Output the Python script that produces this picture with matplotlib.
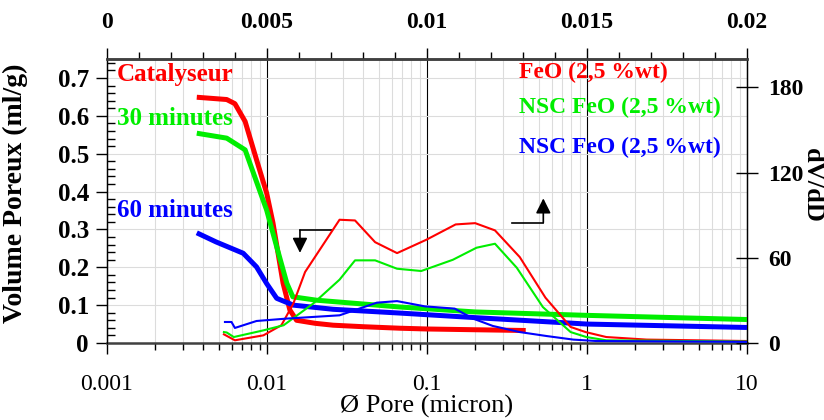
import matplotlib
matplotlib.use("Agg")
import matplotlib.pyplot as plt
from matplotlib.ticker import MultipleLocator, LogLocator, NullFormatter

plt.rcParams['font.family'] = ['Liberation Serif', 'DejaVu Serif']

# ---- data: cumulative pore volume (left axis, ml/g) ----
red_thick_x = [0.00364, 0.0056, 0.0063, 0.0073, 0.0086, 0.00995, 0.0109, 0.0126, 0.0139, 0.0153, 0.02, 0.0259, 0.04, 0.068, 0.1, 0.2, 0.414]
red_thick_y = [0.649, 0.643, 0.632, 0.585, 0.484, 0.396, 0.317, 0.158, 0.087, 0.060, 0.052, 0.047, 0.043, 0.039, 0.037, 0.035, 0.033]
green_thick_x = [0.00364, 0.0056, 0.0073, 0.00995, 0.0115, 0.0133, 0.0145, 0.0204, 0.068, 0.2, 1.0, 10]
green_thick_y = [0.554, 0.541, 0.510, 0.351, 0.254, 0.158, 0.122, 0.113, 0.095, 0.082, 0.073, 0.062]
blue_thick_x = [0.00364, 0.0048, 0.0071, 0.0086, 0.00995, 0.0115, 0.0146, 0.0259, 0.068, 0.2, 1.0, 10]
blue_thick_y = [0.291, 0.267, 0.237, 0.201, 0.157, 0.118, 0.100, 0.089, 0.079, 0.067, 0.050, 0.041]

# ---- data: dV/dD (right axis) ----
red_thin_x = [0.00538, 0.0063, 0.0095, 0.0123, 0.0146, 0.0173, 0.0284, 0.0355, 0.0474, 0.065, 0.099, 0.151, 0.2, 0.266, 0.38, 0.55, 0.79, 0.98, 1.32, 2.36, 10]
red_thin_y = [6.1, 1.9, 5.4, 12.5, 27.7, 50, 86.8, 86.3, 71, 63.3, 72.7, 83.5, 84.4, 79.3, 60.5, 31.9, 11.3, 7.7, 4.2, 2.4, 1.4]
green_thin_x = [0.00538, 0.0056, 0.0062, 0.0095, 0.0127, 0.0194, 0.0284, 0.0355, 0.0474, 0.065, 0.092, 0.145, 0.204, 0.266, 0.364, 0.53, 0.79, 0.99, 1.32, 10]
green_thin_y = [7.7, 7.4, 4.2, 8.9, 12.5, 27.7, 44.6, 58.2, 58.2, 52.3, 50.7, 58.6, 67.1, 69.9, 53, 25.3, 7.7, 4.2, 1.9, 1.0]
blue_thin_x = [0.00546, 0.006, 0.0063, 0.0086, 0.0133, 0.0284, 0.0486, 0.065, 0.097, 0.149, 0.194, 0.258, 0.38, 0.56, 0.82, 1.14, 10]
blue_thin_y = [14.8, 14.8, 10.6, 15.5, 17.2, 19.5, 28.4, 29.5, 25.8, 24.2, 17.2, 12.0, 7.7, 4.9, 2.4, 1.4, 0.8]

# ---- tick labels ----
bottom_ticks = [0.001, 0.01, 0.1, 1, 10]
bottom_labels = ['0.001', '0.01', '0.1', '1', '10']
top_ticks = [0, 0.005, 0.01, 0.015, 0.02]
top_labels = ['0', '0.005', '0.01', '0.015', '0.02']
left_ticks = [0, 0.1, 0.2, 0.3, 0.4, 0.5, 0.6, 0.7]
left_labels = ['0', '0.1', '0.2', '0.3', '0.4', '0.5', '0.6', '0.7']
right_ticks = [0, 60, 120, 180]
right_labels = ['0', '60', '120', '180']

series_labels_left = ['Catalyseur', '30 minutes', '60 minutes']
series_labels_right = ['FeO (2,5 %wt)', 'NSC FeO (2,5 %wt)', 'NSC FeO (2,5 %wt)']
colors = ['#ff0000', '#00ee00', '#0000ff']

# arrow annotations (data coords on main axes)
arrow_left = dict(corner=(0.01607, 0.298), end_x=0.02535, tip_y=0.238)
arrow_right = dict(corner=(0.5333, 0.318), start_x=0.3384, tip_y=0.382)

fig = plt.figure(figsize=(8.24, 4.2), dpi=100)
ax = fig.add_axes([107/824, 77/420, 640/824, 284/420])
ax.set_xscale('log')
ax.set_xlim(0.001, 10)
ax.set_ylim(0, 0.75)

# grids
ax.xaxis.set_minor_locator(LogLocator(base=10, subs=range(2, 10)))
ax.grid(which='minor', axis='x', color='#dcdcdc', lw=0.8)
ax.grid(which='major', axis='y', color='#dcdcdc', lw=0.8)
for xv in [0.01, 0.1, 1]:
    ax.axvline(xv, color='black', lw=0.8, zorder=1)

ax.plot(red_thick_x, red_thick_y, color=colors[0], lw=3.6, zorder=3, solid_capstyle='butt')
ax.plot(green_thick_x, green_thick_y, color=colors[1], lw=3.6, zorder=3, solid_capstyle='butt')
ax.plot(blue_thick_x, blue_thick_y, color=colors[2], lw=3.6, zorder=3, solid_capstyle='butt')

ax.set_xticks(bottom_ticks)
ax.set_xticklabels(bottom_labels)
ax.xaxis.set_minor_formatter(NullFormatter())
ax.set_yticks(left_ticks)
ax.set_yticklabels(left_labels, fontweight='bold')
ax.yaxis.set_minor_locator(MultipleLocator(0.02))
ax.tick_params(axis='x', which='major', direction='out', length=8, width=1, labelsize=17, pad=14)
ax.tick_params(axis='x', which='minor', direction='out', length=5, width=1)
ax.tick_params(axis='y', which='major', direction='out', length=8, width=1, labelsize=18, pad=5)
ax.tick_params(axis='y', which='minor', direction='in', length=6, width=1)

ax.set_xlabel('Ø Pore (micron)', fontsize=19, labelpad=0)
ax.set_ylabel('Volume Poreux (ml/g)', fontsize=20, fontweight='bold')
ax.yaxis.set_label_coords(-0.123, 0.526)

for s in ['top', 'bottom']:
    ax.spines[s].set_color('#404040')
    ax.spines[s].set_linewidth(1.8)
ax.spines['left'].set_linewidth(1.0)
ax.spines['right'].set_linewidth(1.0)

# right axis
ax2 = ax.twinx()
ax2.set_ylim(0, 200)
ax2.plot(red_thin_x, red_thin_y, color=colors[0], lw=1.5)
ax2.plot(green_thin_x, green_thin_y, color=colors[1], lw=1.5)
ax2.plot(blue_thin_x, blue_thin_y, color=colors[2], lw=1.5)
ax2.set_yticks(right_ticks)
ax2.set_yticklabels(right_labels, fontweight='bold')
ax2.tick_params(axis='y', which='major', direction='inout', length=16, width=1, labelsize=17, pad=7)
ax2.set_ylabel('dV/dD', fontsize=19, fontweight='bold', rotation=270, va='center')
ax2.yaxis.set_label_coords(1.102, 0.556)
for s in ['top', 'bottom']:
    ax2.spines[s].set_visible(False)

# top axis
ax3 = ax.twiny()
ax3.set_xlim(0, 0.02)
ax3.set_xticks(top_ticks)
ax3.set_xticklabels(top_labels, fontweight='bold')
ax3.xaxis.set_minor_locator(MultipleLocator(0.001))
ax3.tick_params(axis='x', which='major', direction='out', length=8, width=1, labelsize=17, pad=11)
ax3.tick_params(axis='x', which='minor', direction='out', length=5, width=1)
for s in ['left', 'right', 'bottom']:
    ax3.spines[s].set_visible(False)
ax3.spines['top'].set_color('#404040')
ax3.spines['top'].set_linewidth(1.8)

# text labels
left_text_y = [0.944, 0.792, 0.468]
for lab, c, yy in zip(series_labels_left, colors, left_text_y):
    ax.text(0.0156, yy, lab, color=c, fontsize=18, fontweight='bold',
            transform=ax.transAxes, va='center', ha='left', zorder=5)
right_text_y = [0.951, 0.831, 0.69]
for lab, c, yy in zip(series_labels_right, colors, right_text_y):
    ax.text(0.644, yy, lab, color=c, fontsize=17, fontweight='bold',
            transform=ax.transAxes, va='center', ha='left', zorder=5)

# arrows
cx, cy = arrow_left['corner']
ax.plot([cx, arrow_left['end_x']], [cy, cy], color='black', lw=1.2, zorder=4)
ax.annotate('', xy=(cx, arrow_left['tip_y']), xytext=(cx, cy),
            arrowprops=dict(arrowstyle='-|>,head_length=0.9,head_width=0.45', color='black', lw=1.2,
                            shrinkA=0, shrinkB=0), zorder=4)
cx, cy = arrow_right['corner']
ax.plot([arrow_right['start_x'], cx], [cy, cy], color='black', lw=1.2, zorder=4)
ax.annotate('', xy=(cx, arrow_right['tip_y']), xytext=(cx, cy),
            arrowprops=dict(arrowstyle='-|>,head_length=0.9,head_width=0.45', color='black', lw=1.2,
                            shrinkA=0, shrinkB=0), zorder=4)

fig.savefig('out.png', dpi=100)
